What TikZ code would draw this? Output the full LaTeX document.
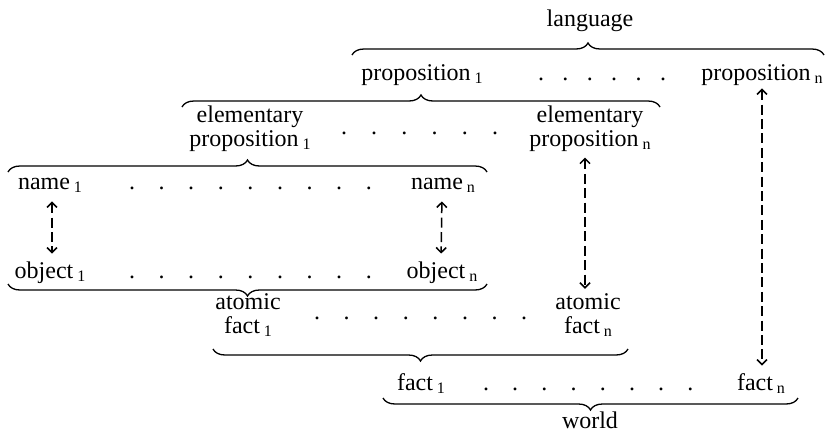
\documentclass[tikz,border=0pt]{standalone}
\usepackage{fontspec}
\setmainfont{Liberation Serif}
\usetikzlibrary{decorations.pathreplacing,arrows.meta}
\newcommand\subidx[1]{\,\raisebox{-1.5pt}{\fontsize{8}{8}\selectfont #1}}
\tikzset{
  lbl/.style={inner sep=0pt, text height=8.5pt, text depth=2.5pt, anchor=base,
    font=\fontsize{12}{12}\selectfont},
  lbl2/.style={inner sep=0pt, anchor=base, font=\fontsize{12}{12}\selectfont},
  dotn/.style={inner sep=0pt, anchor=base, font=\fontsize{12}{12}\selectfont},
  brup/.style={decorate, decoration={brace, amplitude=6pt}, line width=0.65pt},
  arr/.style={dash pattern=on 5pt off 2.2pt, line width=0.75pt,
    {Straight Barb[length=2.5pt,width=5pt]}-{Straight Barb[length=2.5pt,width=5pt]},
    shorten <=3.5pt, shorten >=3.5pt}
}
\begin{document}
\begin{tikzpicture}[x=0.5pt,y=-0.5pt]
\useasboundingbox (0,0) rectangle (826,434);
% language level
\node[lbl] (lang) at (590,26) {language};
\draw[brup] (352,55) -- (824,55);
\node[lbl] (p1) at (422,80) {proposition\subidx{1}};
\node[lbl] (pn) at (762,80) {proposition\subidx{n}};
\foreach \i in {0,...,5} \node[dotn] (pd\i) at ({541+24.4*\i},80) {.};
% elementary propositions
\draw[brup] (182,107) -- (660,107);
\node[lbl2] (e1) at (250,122) {\begin{tabular}[t]{@{}c@{}}elementary\\proposition\subidx{1}\end{tabular}};
\node[lbl2] (en) at (590,122) {\begin{tabular}[t]{@{}c@{}}elementary\\proposition\subidx{n}\end{tabular}};
\foreach \i in {0,...,5} \node[dotn] (ed\i) at ({344+30.2*\i},134) {.};
% names
\draw[brup] (8,172) -- (487,172);
\node[lbl] (name1) at (50,189) {name\subidx{1}};
\node[lbl] (namen) at (443,189) {name\subidx{n}};
\foreach \i in {0,...,8} \node[dotn] (nd\i) at ({132+29.6*\i},189) {.};
% objects
\node[lbl] (object1) at (50,278) {object\subidx{1}};
\node[lbl] (objectn) at (442,278) {object\subidx{n}};
\foreach \i in {0,...,8} \node[dotn] (od\i) at ({132+29.6*\i},278) {.};
\draw[brup] (487,284) -- (8,284);
% atomic facts
\node[lbl2] (atom1) at (248,309) {\begin{tabular}[t]{@{}c@{}}atomic\\fact\subidx{1}\end{tabular}};
\node[lbl2] (atomn) at (588,309) {\begin{tabular}[t]{@{}c@{}}atomic\\fact\subidx{n}\end{tabular}};
\foreach \i in {0,...,7} \node[dotn] (ad\i) at ({317+29.6*\i},319) {.};
\draw[brup] (628,349) -- (213,349);
% facts
\node[lbl] (fact1) at (421,390) {fact\subidx{1}};
\node[lbl] (factn) at (761,390) {fact\subidx{n}};
\foreach \i in {0,...,7} \node[dotn] (fd\i) at ({486+29.2*\i},390) {.};
\draw[brup] (798,398) -- (383,398);
\node[lbl] (world) at (590,428) {world};
% arrows
\draw[arr] ([xshift=1pt]name1.south) -- ([xshift=1pt]object1.north);
\draw[arr] ([xshift=-0.5pt]namen.south) -- ([xshift=-0.5pt]objectn.north);
\draw[arr, shorten <=2pt, shorten >=1.5pt] ([xshift=-2.5pt]en.south) -- ([xshift=-1.5pt]atomn.north);
\draw[arr, shorten <=1.5pt] (pn.south) -- ([xshift=0.5pt]factn.north);
\end{tikzpicture}
\end{document}
